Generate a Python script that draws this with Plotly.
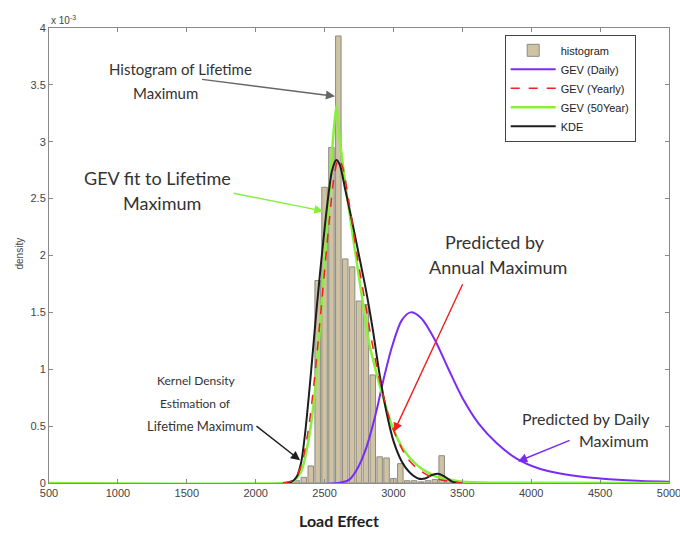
import plotly.graph_objects as go

# ---------------- data (density in units of 1e-3) ----------------
hist_x = [2250, 2300, 2350, 2400, 2450, 2500, 2550, 2600, 2650, 2700, 2750, 2800, 2850,
          2900, 2950, 3000, 3050, 3100, 3150, 3200, 3250, 3300, 3350, 3400]
hist_y = [0.01, 0.02, 0.05, 0.15, 1.78, 2.6, 2.95, 3.93, 1.97, 1.9, 1.6, 1.57, 0.95,
          0.23, 0.22, 0.04, 0.17, 0.02, 0.02, 0.01, 0.02, 0.03, 0.24, 0.03]

daily_x = [500, 2600, 2680, 2740, 2800, 2870, 2930, 2990, 3060, 3125, 3200, 3300, 3400,
           3500, 3620, 3750, 3900, 4050, 4200, 4400, 4600, 4800, 5000]
daily_y = [0, 0, 0.03, 0.13, 0.3, 0.6, 0.92, 1.2, 1.43, 1.5, 1.45, 1.26, 1.0,
           0.75, 0.52, 0.35, 0.21, 0.13, 0.085, 0.05, 0.03, 0.018, 0.012]

yearly_x = [2200, 2280, 2330, 2380, 2430, 2480, 2530, 2570, 2600, 2630, 2680, 2730, 2790,
            2850, 2910, 2970, 3030, 3100, 3180, 3280, 3400, 3500]
yearly_y = [0, 0.03, 0.15, 0.45, 0.95, 1.6, 2.25, 2.7, 2.85, 2.78, 2.45, 2.05, 1.62,
            1.2, 0.85, 0.57, 0.38, 0.22, 0.12, 0.05, 0.015, 0]

y50_x = [500, 2200, 2280, 2330, 2380, 2430, 2480, 2527, 2560, 2585, 2612, 2660, 2720,
         2770, 2820, 2880, 2950, 3000, 3060, 3120, 3200, 3300, 3400, 3500, 3700, 5000]
y50_y = [0, 0, 0.02, 0.1, 0.35, 0.8, 1.6, 2.4, 3.0, 3.32, 3.0, 2.55, 2.05,
         1.65, 1.25, 0.95, 0.65, 0.47, 0.32, 0.22, 0.13, 0.06, 0.03, 0.012, 0.003, 0]

kde_x = [2200, 2260, 2300, 2330, 2360, 2400, 2440, 2480, 2520, 2555, 2585, 2610, 2650,
         2700, 2750, 2800, 2850, 2900, 2950, 3000, 3060, 3120, 3180, 3230, 3280, 3330,
         3380, 3430, 3500]
kde_y = [0, 0.01, 0.06, 0.18, 0.45, 0.95, 1.5, 2.0, 2.45, 2.75, 2.84, 2.8, 2.58,
         2.3, 2.0, 1.7, 1.35, 0.95, 0.62, 0.37, 0.19, 0.09, 0.04, 0.04, 0.07, 0.08,
         0.05, 0.01, 0]

x_ticks = [500, 1000, 1500, 2000, 2500, 3000, 3500, 4000, 4500, 5000]
y_ticks = [0, 0.5, 1, 1.5, 2, 2.5, 3, 3.5, 4]
y_tick_labels = ["0", "0.5", "1", "1.5", "2", "2.5", "3", "3.5", "4"]

PURPLE = "#7A2BF5"
RED = "#F02020"
GREEN = "#86F03A"
KDE_C = "#1E1E1E"

fig = go.Figure()
fig.add_trace(go.Bar(x=hist_x, y=hist_y, width=40, name="histogram",
                     marker=dict(color="#CFC3A3", line=dict(color="#8C8A84", width=1)),
                     legendrank=1))
fig.add_trace(go.Scatter(x=daily_x, y=daily_y, mode="lines", name="GEV (Daily)",
                         line=dict(color=PURPLE, width=2, shape="spline", smoothing=0.8),
                         legendrank=2))
fig.add_trace(go.Scatter(x=y50_x, y=y50_y, mode="lines", name="GEV (50Year)",
                         line=dict(color=GREEN, width=2.5, shape="spline", smoothing=0.5),
                         legendrank=4))
fig.add_trace(go.Scatter(x=kde_x, y=kde_y, mode="lines", name="KDE",
                         line=dict(color=KDE_C, width=2, shape="spline", smoothing=0.8),
                         legendrank=5))
fig.add_trace(go.Scatter(x=yearly_x, y=yearly_y, mode="lines", name="GEV (Yearly)",
                         line=dict(color=RED, width=1.5, dash="dash", shape="spline", smoothing=0.8),
                         legendrank=3))

TXT = "#333333"
FONT = "Lato"

def label(x, y, text, size, color=TXT):
    fig.add_annotation(x=x, y=y, xref="x", yref="y", text=text, showarrow=False,
                       font=dict(family=FONT, size=size, color=color),
                       xanchor="center", yanchor="middle")

def arrow(x, y, ax, ay, color):
    fig.add_annotation(x=x, y=y, ax=ax, ay=ay, xref="x", yref="y", axref="x", ayref="y",
                       text="", showarrow=True, arrowhead=2, arrowsize=1.3,
                       arrowwidth=1.4, arrowcolor=color)

# texts (data coordinates)
label(1451, 3.64, "Histogram of Lifetime", 15)
label(1342, 3.43, "Maximum", 15)
label(1291, 2.68, "GEV fit to Lifetime", 18)
label(1320, 2.46, "Maximum", 18)
label(3740, 2.12, "Predicted by", 18)
label(3760, 1.9, "Annual Maximum", 18)
label(1567, 0.9, "Kernel Density", 12)
label(1560, 0.7, "Estimation of", 12)
label(1596, 0.5, "Lifetime Maximum", 13)
label(4400, 0.57, "Predicted by Daily", 16)
label(4600, 0.37, "Maximum", 16)

# arrows
arrow(2576, 3.40, 1600, 3.55, "#666666")
arrow(2491, 2.39, 1830, 2.55, GREEN)
arrow(3004, 0.45, 3507, 1.76, RED)
arrow(2322, 0.20, 1995, 0.51, KDE_C)
arrow(3904, 0.19, 4290, 0.38, PURPLE)

# axis decorations
fig.add_annotation(x=0.0, y=1.0, xref="paper", yref="paper", text="x 10<sup>-3</sup>",
                   showarrow=False, xanchor="left", yanchor="bottom",
                   font=dict(family="Liberation Sans", size=10, color="#444"))
fig.add_annotation(x=-0.06, y=0.505, xref="paper", yref="paper", text="density",
                   textangle=-90, showarrow=False,
                   font=dict(family="Liberation Sans", size=10, color="#444"))
fig.add_annotation(x=0.468, y=-0.083, xref="paper", yref="paper", text="<b>Load Effect</b>",
                   showarrow=False, yanchor="middle",
                   font=dict(family=FONT, size=16, color="#222"))

axis_common = dict(showline=True, linecolor="#8A8A8A", linewidth=1, mirror="allticks",
                   ticks="inside", ticklen=4, tickcolor="#8A8A8A", showgrid=False,
                   zeroline=False, automargin=False,
                   tickfont=dict(family="Liberation Sans", size=11, color="#444"))

fig.update_layout(
    width=680, height=533,
    margin=dict(l=49, r=11, t=28, b=50, autoexpand=False),
    paper_bgcolor="white", plot_bgcolor="white",
    bargap=0.1,
    xaxis=dict(range=[500, 5000], tickvals=x_ticks, ticklabeloverflow="allow", **axis_common),
    yaxis=dict(range=[0, 4], tickvals=y_ticks, ticktext=y_tick_labels, **axis_common),
    legend=dict(x=0.735, y=0.985, xanchor="left", yanchor="top",
                bgcolor="white", bordercolor="#444", borderwidth=1,
                font=dict(family="Liberation Sans", size=11, color="#222"),
                itemwidth=45, tracegroupgap=0),
    showlegend=True,
)

fig.write_html("out.html")
